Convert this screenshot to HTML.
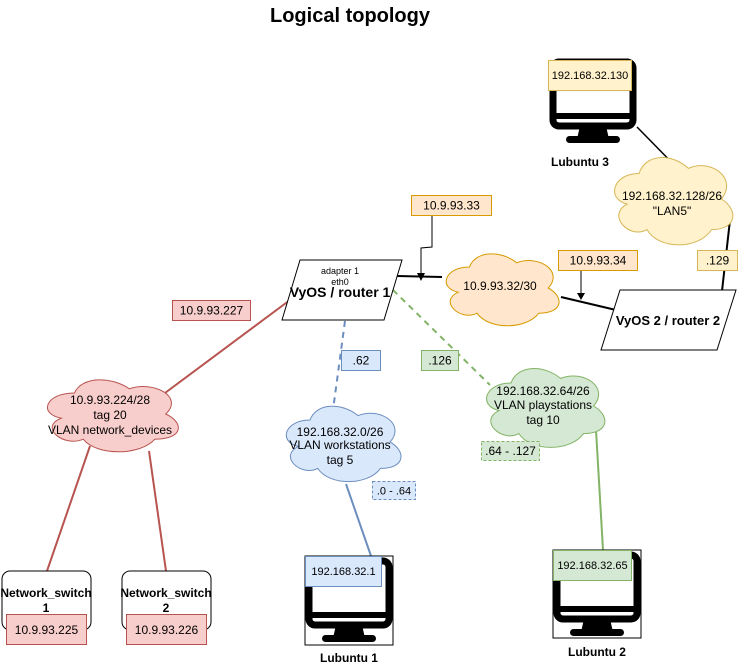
<!DOCTYPE html>
<html><head><meta charset="utf-8"><style>
body{margin:0;background:#fff;}
svg{display:block;font-family:"Liberation Sans",Arial,sans-serif;}
</style></head><body>
<svg width="738" height="668" viewBox="0 0 738 668" xmlns="http://www.w3.org/2000/svg">
<defs>
<path id="cl" d="M0.25 0.25 C0.05 0.25 0 0.5 0.16 0.55 C0 0.66 0.18 0.9 0.31 0.8 C0.4 1 0.7 1 0.8 0.8 C1 0.8 1 0.6 0.875 0.5 C1 0.3 0.8 0.1 0.625 0.2 C0.5 0.05 0.3 0.05 0.25 0.25 Z" vector-effect="non-scaling-stroke"/>
<g id="mon">
<rect x="4" y="4" width="80" height="64" rx="6" fill="none" stroke="#000" stroke-width="7"/>
<line x1="4" y1="58" x2="84" y2="58" stroke="#000" stroke-width="6"/>
<polygon points="31,68 57,68 60,81 28,81" fill="#000"/>
<rect x="17" y="78" width="54" height="7" rx="3.5" fill="#000"/>
</g>
</defs>
<text x="350" y="22" font-size="20" font-weight="bold" text-anchor="middle">Logical topology</text>

<line x1="290" y1="300" x2="165" y2="393" stroke="#b85450" stroke-width="2"/>
<line x1="90" y1="446" x2="47" y2="571" stroke="#b85450" stroke-width="2"/>
<line x1="149" y1="451" x2="166" y2="571" stroke="#b85450" stroke-width="2"/>
<line x1="345" y1="321" x2="333" y2="410" stroke="#6c8ebf" stroke-width="2" stroke-dasharray="6,5"/>
<line x1="346" y1="484" x2="371" y2="556" stroke="#6c8ebf" stroke-width="2"/>
<line x1="393" y1="290" x2="490" y2="385" stroke="#82b366" stroke-width="2" stroke-dasharray="6,5"/>
<line x1="596" y1="430" x2="603" y2="550" stroke="#82b366" stroke-width="2"/>
<line x1="397" y1="276" x2="442" y2="277" stroke="#000" stroke-width="2"/>
<polyline points="432,215 432,247 421,248 421,274" fill="none" stroke="#000" stroke-width="1"/>
<polygon points="417,273 425,273 421,281" fill="#000"/>
<line x1="561" y1="297" x2="616" y2="310" stroke="#000" stroke-width="2"/>
<line x1="581" y1="270" x2="581" y2="294" stroke="#000" stroke-width="1"/>
<polygon points="577,293 585,293 581,300" fill="#000"/>
<line x1="722" y1="291" x2="730" y2="220" stroke="#000" stroke-width="2"/>
<line x1="637" y1="127" x2="687" y2="178" stroke="#000" stroke-width="1.5"/>

<use href="#cl" transform="translate(438,246) scale(126,84)" fill="#ffe6cc" stroke="#d79b00" stroke-width="1"/>
<text x="500" y="290" font-size="12" text-anchor="middle">10.9.93.32/30</text>
<use href="#cl" transform="translate(606,148) scale(132,102)" fill="#fff2cc" stroke="#d6b656" stroke-width="1"/>
<text x="672" y="200" font-size="12" text-anchor="middle">192.168.32.128/26</text>
<text x="672" y="215" font-size="12" text-anchor="middle">"LAN5"</text>
<use href="#cl" transform="translate(38,372) scale(146,84)" fill="#f8cecc" stroke="#b85450" stroke-width="1"/>
<text x="110" y="404" font-size="12" text-anchor="middle">10.9.93.224/28</text>
<text x="110" y="419" font-size="12" text-anchor="middle">tag 20</text>
<text x="110" y="434" font-size="12" text-anchor="middle">VLAN network_devices</text>
<use href="#cl" transform="translate(278,398) scale(128,88)" fill="#dae8fc" stroke="#6c8ebf" stroke-width="1"/>
<text x="340" y="436" font-size="12" text-anchor="middle">192.168.32.0/26</text>
<text x="340" y="449" font-size="12" text-anchor="middle">VLAN workstations</text>
<text x="340" y="464" font-size="12" text-anchor="middle">tag 5</text>
<use href="#cl" transform="translate(478,360) scale(132,92)" fill="#d5e8d4" stroke="#82b366" stroke-width="1"/>
<text x="543" y="395" font-size="12" text-anchor="middle">192.168.32.64/26</text>
<text x="543" y="409" font-size="12" text-anchor="middle">VLAN playstations</text>
<text x="543" y="424" font-size="12" text-anchor="middle">tag 10</text>

<polygon points="282,320 300,260 402,260 384,320" fill="#fff" stroke="#000" stroke-width="1"/>
<text x="340" y="274" font-size="9" text-anchor="middle">adapter 1</text>
<text x="340" y="285" font-size="9" text-anchor="middle">eth0</text>
<text x="340" y="297" font-size="14" font-weight="bold" text-anchor="middle">VyOS / router 1</text>
<polygon points="601,350 620,290 736,290 717,350" fill="#fff" stroke="#000" stroke-width="1"/>
<text x="668" y="325" font-size="13" font-weight="bold" text-anchor="middle">VyOS 2 / router 2</text>

<use href="#mon" transform="translate(549,58)"/>
<text x="580" y="166" font-size="12" font-weight="bold" text-anchor="middle">Lubuntu 3</text>
<rect x="305" y="556" width="88" height="89" fill="none" stroke="#000" stroke-width="1"/>
<use href="#mon" transform="translate(305,557)"/>
<text x="349" y="662" font-size="12" font-weight="bold" text-anchor="middle">Lubuntu 1</text>
<rect x="553" y="550" width="88" height="88" fill="none" stroke="#000" stroke-width="1"/>
<use href="#mon" transform="translate(553,551)"/>
<text x="597" y="656" font-size="12" font-weight="bold" text-anchor="middle">Lubuntu 2</text>

<rect x="2" y="571" width="89" height="59" rx="8" fill="#fff" stroke="#000"/>
<text x="46" y="597" font-size="12" font-weight="bold" text-anchor="middle">Network_switch</text>
<text x="46" y="612" font-size="12" font-weight="bold" text-anchor="middle">1</text>
<rect x="122" y="571" width="89" height="59" rx="8" fill="#fff" stroke="#000"/>
<text x="166" y="597" font-size="12" font-weight="bold" text-anchor="middle">Network_switch</text>
<text x="166" y="612" font-size="12" font-weight="bold" text-anchor="middle">2</text>

<g font-size="12" text-anchor="middle">
<rect x="6.5" y="614.5" width="80" height="30" fill="#f8cecc" stroke="#b85450"/><text x="46.5" y="634">10.9.93.225</text>
<rect x="126.5" y="614.5" width="80" height="30" fill="#f8cecc" stroke="#b85450"/><text x="166.5" y="634">10.9.93.226</text>
<rect x="411.5" y="195.5" width="80" height="20" fill="#ffe6cc" stroke="#d79b00"/><text x="451.5" y="209.5">10.9.93.33</text>
<rect x="558.5" y="250.5" width="79" height="20" fill="#ffe6cc" stroke="#d79b00"/><text x="598" y="264.5">10.9.93.34</text>
<rect x="697.5" y="250.5" width="40" height="20" fill="#fff2cc" stroke="#d6b656"/><text x="717.5" y="264.5">.129</text>
<rect x="172.5" y="300.5" width="78" height="20" fill="#f8cecc" stroke="#b85450"/><text x="211.5" y="314.5">10.9.93.227</text>
<rect x="341.5" y="350.5" width="39" height="20" fill="#dae8fc" stroke="#6c8ebf"/><text x="361" y="364.5">.62</text>
<rect x="421.5" y="350.5" width="37" height="20" fill="#d5e8d4" stroke="#82b366"/><text x="440" y="364.5">.126</text>
<rect x="372.5" y="481.5" width="43" height="18" fill="#dae8fc" stroke="#6c8ebf" stroke-dasharray="3,2"/><text x="394" y="494.5" font-size="11">.0 - .64</text>
<rect x="481.5" y="441.5" width="58" height="19" fill="#d5e8d4" stroke="#82b366" stroke-dasharray="3,2"/><text x="510.5" y="455">.64 - .127</text>
</g>
<g font-size="11" text-anchor="middle">
<rect x="548.5" y="60.5" width="83" height="30" fill="#fff2cc" stroke="#d6b656"/><text x="590" y="79">192.168.32.130</text>
<rect x="305.5" y="556.5" width="76" height="30" fill="#dae8fc" stroke="#6c8ebf"/><text x="343.5" y="575">192.168.32.1</text>
<rect x="553.5" y="550.5" width="78" height="30" fill="#d5e8d4" stroke="#82b366"/><text x="592.5" y="569">192.168.32.65</text>
</g>
</svg>
</body></html>
